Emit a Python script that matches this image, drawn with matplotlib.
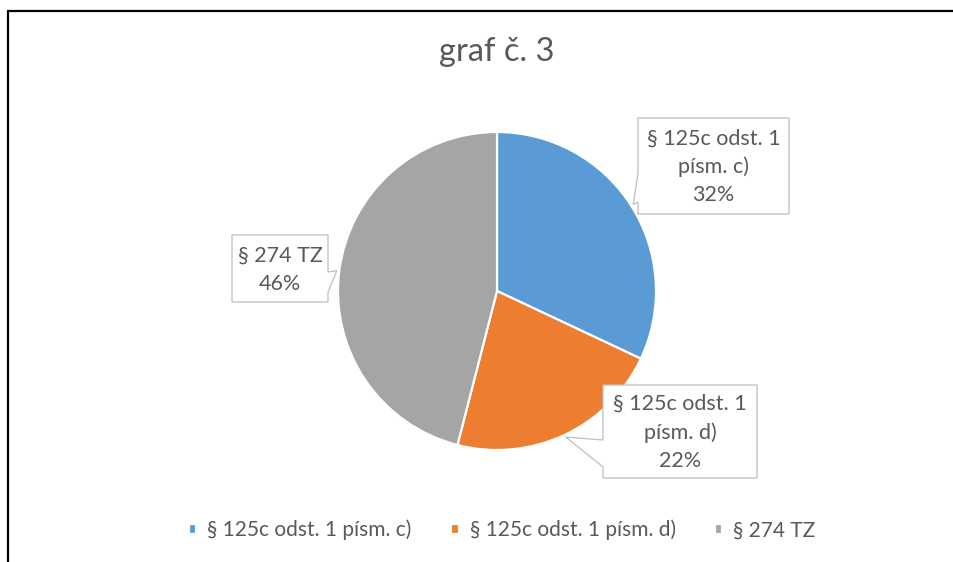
import textwrap
import numpy as np
import matplotlib.pyplot as plt
from matplotlib.patches import Polygon

plt.rcParams['font.family'] = ['Lato', 'DejaVu Sans']

# data
categories = ['§ 125c odst. 1 písm. c)', '§ 125c odst. 1 písm. d)', '§ 274 TZ']
values = [32, 22, 46]
colors = ['#5B9BD5', '#ED7D31', '#A5A5A5']
title = 'graf č. 3'

W, H = 954, 562
TXT = '#595959'

fig = plt.figure(figsize=(W / 100, H / 100), dpi=100)

# pie axes: centre (497, 291) px, radius 159 px
cx, cy, r = 497, 291, 159
ax = fig.add_axes([(cx - r) / W, (H - cy - r) / H, 2 * r / W, 2 * r / H])
wedges, _ = ax.pie(values, colors=colors, startangle=90, counterclock=False,
                   radius=1, wedgeprops=dict(edgecolor='white', linewidth=1.6))
ax.set_xlim(-1, 1)
ax.set_ylim(-1, 1)
ax.set_aspect('equal')
ax.axis('off')

# overlay axes in pixel coords (y down)
ov = fig.add_axes([0, 0, 1, 1], zorder=5)
ov.set_xlim(0, W)
ov.set_ylim(H, 0)
ov.axis('off')
ov.patch.set_alpha(0)

# frame lines (left and top)
ov.plot([8, 8, W + 5], [H + 5, 10.5, 10.5], color='black', lw=1.6,
        solid_joinstyle='miter', clip_on=False)

ov.text(497, 52, title, ha='center', va='center', fontsize=23.5, color=TXT)

# callout boxes: (x0, x1, y0, y1, side, notch top, notch bottom)
boxes = [
    (638, 789, 118, 214, 'left', 173, 202),
    (603, 757, 385, 478, 'left', 440, 467),
    (232, 328, 235, 302, 'right', 272, 292),
]

total = sum(values)
angle = 90.0
to_ov = ax.transData + ov.transData.inverted()
for name, v, (x0, x1, y0, y1, side, n0, n1) in zip(categories, values, boxes):
    mid = np.deg2rad(angle - v / total * 180)
    angle -= v / total * 360
    tx, ty = to_ov.transform((1.015 * np.cos(mid), 1.015 * np.sin(mid)))
    if side == 'left':
        pts = [(x0, y0), (x1, y0), (x1, y1), (x0, y1), (x0, n1), (tx, ty), (x0, n0)]
    else:
        pts = [(x0, y0), (x1, y0), (x1, n0), (tx, ty), (x1, n1), (x1, y1), (x0, y1)]
    ov.add_patch(Polygon(pts, closed=True, facecolor='white',
                         edgecolor='#BFBFBF', lw=0.9))
    label = textwrap.fill(name, 14) + '\n' + f'{v / total * 100:.0f}%'
    ov.text((x0 + x1) / 2, (y0 + y1) / 2 + 1, label, ha='center', va='center',
            fontsize=15.5, color=TXT, linespacing=1.5)

fig.legend(wedges, categories, loc='center',
           bbox_to_anchor=(502.5 / W, 1 - 530 / H),
           ncol=3, frameon=False, fontsize=15, labelcolor=TXT,
           handlelength=0.34, handleheight=0.34, handletextpad=0.53,
           columnspacing=1.9)

fig.savefig('out.png', dpi=100)
